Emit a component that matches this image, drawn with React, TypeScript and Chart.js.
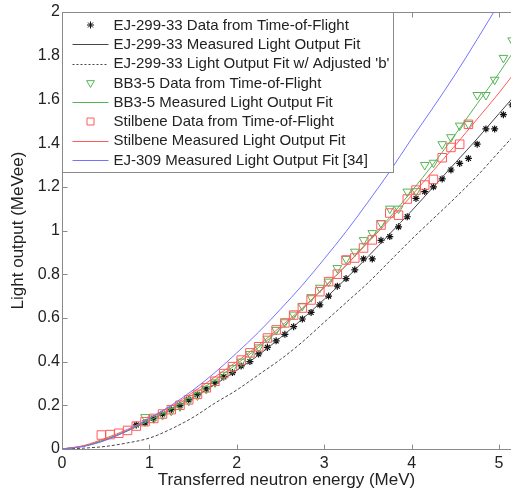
import React, { useEffect, useRef } from 'react';
import { Chart, registerables } from 'chart.js';

Chart.register(...registerables);

// ---------- data ----------
const xTicks = [0, 1, 2, 3, 4, 5];
const yTicks = [0, 0.2, 0.4, 0.6, 0.8, 1, 1.2, 1.4, 1.6, 1.8, 2];

const fitEnergy = [0, 0.25, 0.5, 0.75, 1, 1.25, 1.5, 1.75, 2, 2.25, 2.5, 2.75, 3, 3.25, 3.5, 3.75, 4, 4.25, 4.5, 4.75, 5, 5.25];
const ej299FitValues = [0, 0.013, 0.042, 0.083, 0.13, 0.18, 0.235, 0.295, 0.36, 0.43, 0.51, 0.595, 0.685, 0.78, 0.88, 0.985, 1.09, 1.2, 1.31, 1.42, 1.535, 1.65];
const ej299AdjustedValues = [0, 0.004, 0.012, 0.028, 0.05, 0.092, 0.145, 0.21, 0.27, 0.34, 0.41, 0.49, 0.58, 0.67, 0.76, 0.86, 0.96, 1.055, 1.15, 1.25, 1.36, 1.47];
const bb35FitValues = [0, 0.014, 0.045, 0.085, 0.13, 0.185, 0.25, 0.315, 0.39, 0.465, 0.55, 0.64, 0.74, 0.84, 0.95, 1.06, 1.18, 1.305, 1.44, 1.58, 1.72, 1.87];
const stilbeneFitValues = [0, 0.016, 0.05, 0.09, 0.14, 0.195, 0.26, 0.33, 0.4, 0.475, 0.56, 0.645, 0.74, 0.84, 0.945, 1.05, 1.16, 1.275, 1.39, 1.51, 1.63, 1.76];
const ej309FitValues = [0, 0.012, 0.04, 0.085, 0.14, 0.2, 0.27, 0.35, 0.44, 0.535, 0.64, 0.75, 0.87, 0.995, 1.13, 1.27, 1.42, 1.565, 1.715, 1.875, 2.04, 2.21];

const ej299DataEnergy = [0.85, 0.95, 1.05, 1.15, 1.25, 1.35, 1.45, 1.55, 1.65, 1.75, 1.85, 1.95, 2.05, 2.15, 2.25, 2.35, 2.45, 2.55, 2.65, 2.75, 2.85, 2.95, 3.05, 3.15, 3.25, 3.35, 3.45, 3.55, 3.65, 3.75, 3.85, 3.95, 4.05, 4.15, 4.25, 4.35, 4.45, 4.55, 4.65, 4.75, 4.85, 4.95, 5.05, 5.15];
const ej299DataValues = [0.11, 0.12, 0.14, 0.16, 0.18, 0.2, 0.225, 0.25, 0.275, 0.3, 0.33, 0.35, 0.38, 0.4, 0.435, 0.465, 0.495, 0.525, 0.56, 0.595, 0.625, 0.66, 0.7, 0.745, 0.78, 0.82, 0.87, 0.87, 0.955, 0.972, 1.017, 1.063, 1.147, 1.178, 1.2, 1.236, 1.277, 1.307, 1.33, 1.395, 1.465, 1.465, 1.53, 1.575];

const bb35DataEnergy = [0.95, 1.05, 1.15, 1.25, 1.35, 1.45, 1.55, 1.65, 1.75, 1.85, 1.95, 2.05, 2.15, 2.25, 2.35, 2.45, 2.55, 2.65, 2.75, 2.85, 2.95, 3.05, 3.15, 3.25, 3.35, 3.45, 3.55, 3.65, 3.75, 3.85, 3.95, 4.05, 4.15, 4.25, 4.35, 4.45, 4.55, 4.65, 4.75, 4.85, 4.95, 5.05, 5.15];
const bb35DataValues = [0.146, 0.14, 0.155, 0.175, 0.195, 0.22, 0.245, 0.275, 0.305, 0.34, 0.37, 0.4, 0.435, 0.465, 0.505, 0.545, 0.58, 0.615, 0.655, 0.695, 0.738, 0.766, 0.828, 0.87, 0.903, 0.956, 0.988, 1.034, 1.1, 1.1, 1.178, 1.18, 1.3, 1.31, 1.395, 1.427, 1.48, 1.487, 1.62, 1.62, 1.69, 1.79, 1.87];

const stilbeneDataEnergy = [0.45, 0.55, 0.65, 0.75, 0.85, 0.95, 1.05, 1.15, 1.25, 1.35, 1.45, 1.55, 1.65, 1.75, 1.85, 1.95, 2.05, 2.15, 2.25, 2.35, 2.45, 2.55, 2.65, 2.75, 2.85, 2.95, 3.05, 3.15, 3.25, 3.35, 3.45, 3.55, 3.65, 3.75, 3.85, 3.95, 4.05, 4.15, 4.25, 4.35, 4.45, 4.55, 4.65];
const stilbeneDataValues = [0.064, 0.066, 0.072, 0.085, 0.105, 0.125, 0.14, 0.16, 0.18, 0.2, 0.225, 0.25, 0.28, 0.31, 0.345, 0.377, 0.407, 0.44, 0.468, 0.508, 0.545, 0.577, 0.613, 0.645, 0.682, 0.72, 0.766, 0.8, 0.865, 0.874, 0.92, 0.957, 1.025, 1.08, 1.07, 1.144, 1.185, 1.208, 1.234, 1.333, 1.38, 1.395, 1.486];

const seriesLabels = [
  'EJ-299-33 Data from Time-of-Flight',
  'EJ-299-33 Measured Light Output Fit',
  "EJ-299-33 Light Output Fit w/ Adjusted 'b'",
  'BB3-5 Data from Time-of-Flight',
  'BB3-5 Measured Light Output Fit',
  'Stilbene Data from Time-of-Flight',
  'Stilbene Measured Light Output Fit',
  'EJ-309 Measured Light Output Fit [34]',
];

const xTitle = 'Transferred neutron energy (MeV)';
const yTitle = 'Light output (MeVee)';

// ---------- styles ----------
const FONT = 'Arial, "Liberation Sans", Helvetica, sans-serif';
const TEXT = '#222222';
const AXIS = '#8a8a8a';
const C_BLACK = 'rgb(70,70,70)';
const C_GREEN = 'rgb(85,180,85)';
const C_RED = 'rgb(255,90,90)';
const C_BLUE = 'rgb(115,115,255)';

const X_MAX = 5.137;

const pts = (xs: number[], ys: number[]) => xs.map((x, i) => ({ x, y: ys[i] }));

type Kind = 'star' | 'tri' | 'rect' | 'line' | 'dash';
const legendKinds: Kind[] = ['star', 'line', 'dash', 'tri', 'line', 'rect', 'line', 'line'];
const legendColors = ['#111', C_BLACK, C_BLACK, C_GREEN, C_GREEN, C_RED, C_RED, C_BLUE];

function drawMarker(ctx: CanvasRenderingContext2D, kind: Kind, x: number, y: number, color: string) {
  ctx.save();
  ctx.strokeStyle = color;
  ctx.lineWidth = 1;
  ctx.beginPath();
  if (kind === 'star') {
    const r = 3.5;
    for (let k = 0; k < 4; k++) {
      const a = (k * Math.PI) / 4;
      ctx.moveTo(x - Math.cos(a) * r, y - Math.sin(a) * r);
      ctx.lineTo(x + Math.cos(a) * r, y + Math.sin(a) * r);
    }
  } else if (kind === 'tri') {
    const r = 4.5;
    for (let k = 0; k < 3; k++) {
      const a = Math.PI + (k * 2 * Math.PI) / 3;
      const px = x + Math.sin(a) * r;
      const py = y - Math.cos(a) * r;
      if (k === 0) ctx.moveTo(px, py);
      else ctx.lineTo(px, py);
    }
    ctx.closePath();
  } else if (kind === 'rect') {
    const s = 3.5;
    ctx.rect(x - s, y - s, 2 * s, 2 * s);
  }
  ctx.stroke();
  ctx.restore();
}

const framePlugin = {
  id: 'frame',
  beforeDatasetsDraw(chart: any) {
    const { ctx, chartArea: a, scales } = chart;
    const L = Math.round(a.left) + 0.5;
    const T = Math.round(a.top) + 0.5;
    const B = Math.round(a.bottom) + 0.5;
    ctx.save();
    ctx.strokeStyle = AXIS;
    ctx.lineWidth = 1;
    ctx.beginPath();
    ctx.moveTo(a.right + 1, T);
    ctx.lineTo(L, T);
    ctx.lineTo(L, B);
    ctx.lineTo(a.right + 1, B);
    for (const v of xTicks) {
      const px = Math.round(scales.x.getPixelForValue(v)) + 0.5;
      ctx.moveTo(px, B);
      ctx.lineTo(px, B - 5);
      ctx.moveTo(px, T);
      ctx.lineTo(px, T + 5);
    }
    for (const v of yTicks) {
      const py = Math.round(scales.y.getPixelForValue(v)) + 0.5;
      ctx.moveTo(L, py);
      ctx.lineTo(L + 5, py);
    }
    ctx.stroke();
    ctx.restore();
  },
};

const legendPlugin = {
  id: 'boxLegend',
  afterDatasetsDraw(chart: any) {
    const { ctx, chartArea: a } = chart;
    const L = Math.round(a.left) + 0.5;
    const T = Math.round(a.top) + 0.5;
    const W = 331;
    const H = 160;
    ctx.save();
    ctx.fillStyle = '#ffffff';
    ctx.fillRect(L, T, W, H);
    ctx.strokeStyle = AXIS;
    ctx.lineWidth = 1;
    ctx.strokeRect(L, T, W, H);
    ctx.font = `15px ${FONT}`;
    ctx.textBaseline = 'middle';
    ctx.textAlign = 'left';
    seriesLabels.forEach((label, i) => {
      const y = T + 12.5 + i * 19.3;
      const kind = legendKinds[i];
      const color = legendColors[i];
      if (kind === 'line' || kind === 'dash') {
        ctx.save();
        ctx.strokeStyle = color;
        ctx.lineWidth = 1;
        if (kind === 'dash') ctx.setLineDash([2, 2]);
        ctx.beginPath();
        ctx.moveTo(L + 10, Math.round(y) + 0.5);
        ctx.lineTo(L + 46, Math.round(y) + 0.5);
        ctx.stroke();
        ctx.restore();
      } else {
        drawMarker(ctx, kind, L + 28, y, color);
      }
      ctx.fillStyle = TEXT;
      ctx.fillText(label, L + 51, y + 0.5);
    });
    ctx.restore();
  },
};

export default function App() {
  const ref = useRef<HTMLCanvasElement>(null);

  useEffect(() => {
    const canvas = ref.current;
    if (!canvas) return;
    const lineDs = (label: string, ys: number[], color: string, order: number, dash?: number[]) => ({
      type: 'scatter' as const,
      label,
      data: pts(fitEnergy, ys),
      showLine: true,
      borderColor: color,
      backgroundColor: color,
      borderWidth: 1,
      borderDash: dash || [],
      pointRadius: 0,
      cubicInterpolationMode: 'monotone' as const,
      order,
    });
    const chart = new Chart(canvas, {
      type: 'scatter',
      data: {
        datasets: [
          {
            label: seriesLabels[0],
            data: pts(ej299DataEnergy, ej299DataValues),
            pointStyle: 'star',
            pointRadius: 3.5,
            borderColor: '#111',
            backgroundColor: '#111',
            borderWidth: 1.2,
            order: 10,
          },
          lineDs(seriesLabels[1], ej299FitValues, C_BLACK, 9),
          lineDs(seriesLabels[2], ej299AdjustedValues, C_BLACK, 8, [3, 2]),
          {
            label: seriesLabels[3],
            data: pts(bb35DataEnergy, bb35DataValues),
            pointStyle: 'triangle',
            rotation: 180,
            pointRadius: 5,
            borderColor: C_GREEN,
            backgroundColor: 'rgba(0,0,0,0)',
            borderWidth: 1,
            order: 7,
          } as any,
          lineDs(seriesLabels[4], bb35FitValues, C_GREEN, 6),
          {
            label: seriesLabels[5],
            data: pts(stilbeneDataEnergy, stilbeneDataValues),
            pointStyle: 'rect',
            pointRadius: 6,
            borderColor: C_RED,
            backgroundColor: 'rgba(0,0,0,0)',
            borderWidth: 1,
            order: 5,
          },
          lineDs(seriesLabels[6], stilbeneFitValues, C_RED, 4),
          lineDs(seriesLabels[7], ej309FitValues, C_BLUE, 3),
        ],
      },
      options: {
        animation: false,
        responsive: false,
        devicePixelRatio: 1,
        layout: { autoPadding: false, padding: { top: 12, right: 0, left: 0, bottom: 0 } },
        plugins: {
          legend: { display: false },
          tooltip: { enabled: false },
        },
        scales: {
          x: {
            type: 'linear',
            min: 0,
            max: X_MAX,
            grid: { display: false, drawTicks: false },
            border: { display: false },
            afterBuildTicks: (s: any) => {
              s.ticks = xTicks.map((v) => ({ value: v }));
            },
            afterFit: (s: any) => {
              s.height = 46;
              s.paddingRight = 0;
              s.paddingLeft = 0;
            },
            ticks: {
              color: TEXT,
              font: { family: FONT, size: 16 },
              padding: 5,
              maxRotation: 0,
              callback: (v: any) => String(v),
            },
            title: {
              display: true,
              text: xTitle,
              color: TEXT,
              font: { family: FONT, size: 17 },
              padding: { top: 4, bottom: 4 },
            },
          },
          y: {
            type: 'linear',
            min: 0,
            max: 2,
            grid: { display: false, drawTicks: false },
            border: { display: false },
            afterBuildTicks: (s: any) => {
              s.ticks = yTicks.map((v) => ({ value: v }));
            },
            afterFit: (s: any) => {
              s.width = 62;
              s.paddingTop = 0;
              s.paddingBottom = 0;
            },
            ticks: {
              color: TEXT,
              font: { family: FONT, size: 16 },
              padding: 2,
              callback: (v: any) => String(Math.round(Number(v) * 10) / 10),
            },
            title: {
              display: true,
              text: yTitle,
              color: TEXT,
              font: { family: FONT, size: 17 },
              padding: { top: 8, bottom: 4 },
            },
          },
        },
      },
      plugins: [framePlugin, legendPlugin],
    } as any);
    return () => chart.destroy();
  }, []);

  return (
    <div style={{ position: 'fixed', left: 0, top: 0, width: 511, height: 495, background: '#fff' }}>
      <canvas ref={ref} width={511} height={495} style={{ display: 'block', width: 511, height: 495 }} />
    </div>
  );
}
